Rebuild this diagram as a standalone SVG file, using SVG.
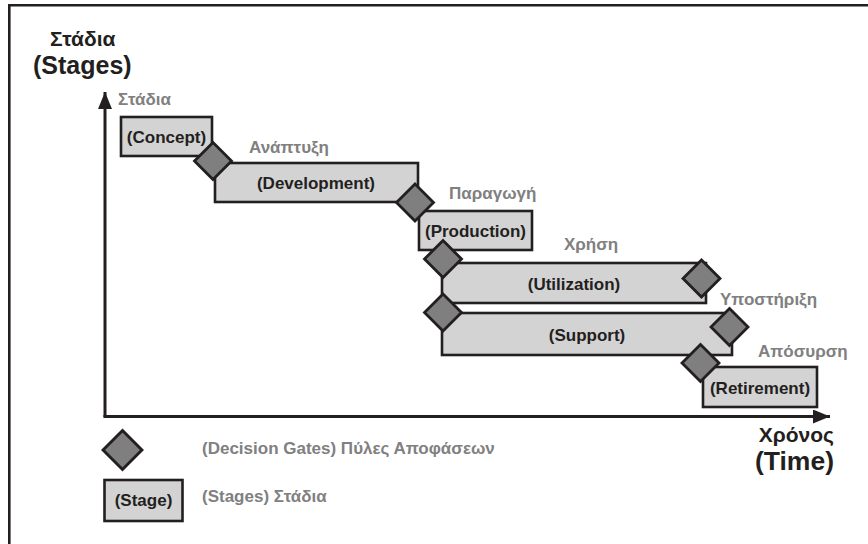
<svg xmlns="http://www.w3.org/2000/svg" width="868" height="544" viewBox="0 0 868 544">
  <style>
    .stage { fill: #d3d3d3; stroke: #231f20; stroke-width: 2.6; }
    .gate { fill: #7f7f7f; stroke: #231f20; stroke-width: 2.8; stroke-linejoin: miter; }
    .lbl { font-family: "Liberation Sans", Arial, sans-serif; font-weight: bold; font-size: 17px; fill: #231f20; text-anchor: middle; }
    .gray { font-family: "Liberation Sans", Arial, sans-serif; font-weight: bold; font-size: 17px; fill: #808080; }
    .title { font-family: "Liberation Sans", Arial, sans-serif; font-weight: bold; fill: #231f20; }
    .axis { fill: none; stroke: #231f20; stroke-width: 3; }
    .frame { fill: none; stroke: #231f20; stroke-width: 2.6; }
  </style>
  <defs>
    <marker id="arrow" markerUnits="userSpaceOnUse" markerWidth="17" markerHeight="14" refX="17" refY="7" orient="auto">
      <path d="M0,0 L17,7 L0,14 z" fill="#231f20"/>
    </marker>
    <polygon id="diamond" points="0,-18.5 18.5,0 0,18.5 -18.5,0"/>
  </defs>

  <rect width="868" height="544" fill="#ffffff"/>
  <path class="frame" d="M9.3,544 V5.3 H868"/>

  <!-- axis titles -->
  <text class="title" x="50" y="46" font-size="21">Στάδια</text>
  <text class="title" x="33" y="74" font-size="25">(Stages)</text>
  <text class="title" x="834" y="442" font-size="21" text-anchor="end">Χρόνος</text>
  <text class="title" x="834" y="470" font-size="26.5" text-anchor="end">(Time)</text>

  <!-- axes -->
  <g id="connectors">
    <path class="axis" d="M105,417 V92" marker-end="url(#arrow)"/>
    <path class="axis" d="M103.5,416.5 H830" marker-end="url(#arrow)"/>
  </g>

  <!-- stages -->
  <g id="stage-concept">
    <rect class="stage" x="121" y="117" width="91" height="39"/>
    <text class="lbl" x="166.5" y="143">(Concept)</text>
    <text class="gray" x="118" y="105">Στάδια</text>
  </g>
  <g id="stage-development">
    <rect class="stage" x="215" y="163" width="203" height="39"/>
    <text class="lbl" x="316" y="189">(Development)</text>
    <text class="gray" x="249" y="153">Ανάπτυξη</text>
  </g>
  <g id="stage-production">
    <rect class="stage" x="419" y="211" width="113" height="39"/>
    <text class="lbl" x="475.5" y="237">(Production)</text>
    <text class="gray" x="449" y="199">Παραγωγή</text>
  </g>
  <g id="stage-utilization">
    <rect class="stage" x="442" y="263" width="264" height="40"/>
    <text class="lbl" x="574" y="290">(Utilization)</text>
    <text class="gray" x="564" y="250">Χρήση</text>
  </g>
  <g id="stage-support">
    <rect class="stage" x="442" y="313" width="290" height="42"/>
    <text class="lbl" x="587" y="341">(Support)</text>
    <text class="gray" x="720" y="305">Υποστήριξη</text>
  </g>
  <g id="stage-retirement">
    <rect class="stage" x="703" y="367" width="114" height="40"/>
    <text class="lbl" x="760" y="394">(Retirement)</text>
    <text class="gray" x="758" y="357">Απόσυρση</text>
  </g>

  <!-- decision gates -->
  <g id="gate-1"><use href="#diamond" class="gate" x="213" y="161"/></g>
  <g id="gate-2"><use href="#diamond" class="gate" x="415" y="202.5"/></g>
  <g id="gate-3"><use href="#diamond" class="gate" x="443" y="259"/></g>
  <g id="gate-4"><use href="#diamond" class="gate" x="443" y="312.5"/></g>
  <g id="gate-5"><use href="#diamond" class="gate" x="701.5" y="278.5"/></g>
  <g id="gate-6"><use href="#diamond" class="gate" x="729.5" y="327"/></g>
  <g id="gate-7"><use href="#diamond" class="gate" x="700.5" y="363"/></g>

  <!-- legend -->
  <g id="legend-gate">
    <use href="#diamond" class="gate" x="122.5" y="450" transform="translate(122.5 450) scale(1.05) translate(-122.5 -450)"/>
    <text class="gray" x="202" y="454">(Decision Gates) Πύλες Αποφάσεων</text>
  </g>
  <g id="legend-stage">
    <rect class="stage" x="104.5" y="480" width="78" height="41"/>
    <text class="lbl" x="143.5" y="506">(Stage)</text>
    <text class="gray" x="202" y="502">(Stages) Στάδια</text>
  </g>
</svg>
